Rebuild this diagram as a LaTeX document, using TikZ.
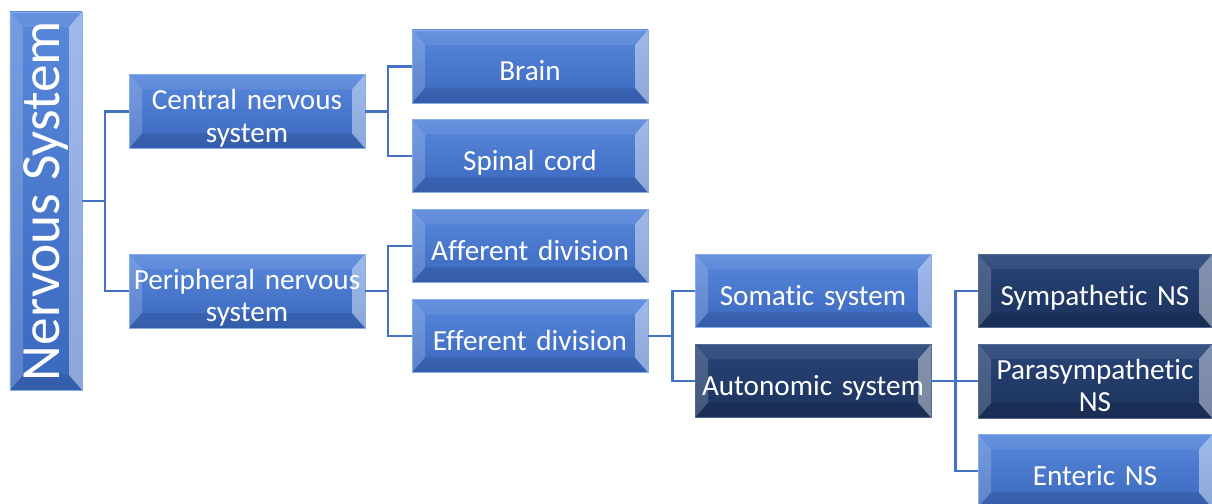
\documentclass[tikz,border=0pt]{standalone}
\usepackage{fontspec}
\setmainfont{Carlito}[RawFeature=-liga]
\usepackage{graphicx}
\usetikzlibrary{positioning,calc}
\definecolor{nsblue}{RGB}{58,104,190}
\definecolor{nsbluetop}{RGB}{88,136,220}
\definecolor{nsdark}{RGB}{28,50,92}
\definecolor{nsdarktop}{RGB}{40,68,120}
\definecolor{nsline}{RGB}{68,114,196}
\tikzset{
  bevel/.style={path picture={
      \path (path picture bounding box.south west) coordinate (bsw)
            (path picture bounding box.north east) coordinate (bne);
      \fill[white,opacity=.08] (bsw|-bne) -- ($(bsw|-bne)+(0.26,-0.3)$) -- ($(bne)+(-0.26,-0.3)$) -- (bne) -- cycle;
      \fill[black,opacity=.10] (bsw) -- ($(bsw)+(0.26,0.3)$) -- ($(bne|-bsw)+(-0.26,0.3)$) -- (bne|-bsw) -- cycle;
      \fill[white,opacity=.18] (bsw) -- ($(bsw)+(0.26,0.3)$) -- ($(bsw|-bne)+(0.26,-0.3)$) -- (bsw|-bne) -- cycle;
      \fill[white,opacity=.42] (bne) -- ($(bne)+(-0.26,-0.3)$) -- ($(bne|-bsw)+(-0.26,0.3)$) -- (bne|-bsw) -- cycle;
    }},
  lightbox/.style={rectangle, bevel, draw=nsbluetop!70!white, thin, top color=nsbluetop, bottom color=nsblue, text=white, align=center, minimum width=4.72cm, minimum height=1.46cm, text width=4.66cm, inner sep=0pt, text height=16pt, text depth=0pt, font=\fontsize{16.6}{18.5}\selectfont},
  darkbox/.style={lightbox, draw=nsdarktop!80!white, top color=nsdarktop, bottom color=nsdark},
  twoline/.style={text height=20pt, text depth=22pt},
  rootbox/.style={lightbox, minimum width=1.44cm, minimum height=7.56cm, text width=, text height=, text depth=, font=\fontsize{31.5}{34}\selectfont},
  link/.style={draw=nsline, line width=1.3pt}
}
\begin{document}
\begin{tikzpicture}
\useasboundingbox (0,0) rectangle (24.24,10.08);
% root
\node[rootbox] (root) at (0.92,6.06) {\rotatebox{90}{Nervous System}};
% second level
\node[lightbox, twoline] (cns) at (4.94,7.85) {Central nervous\\system};
\node[lightbox, twoline] (pns) at (4.94,4.26) {Peripheral nervous\\system};
% third level
\node[lightbox] (brain) at (10.60,8.75) {Brain};
\node[lightbox] (spinal) at (10.60,6.96) {Spinal cord};
\node[lightbox] (afferent) at (10.60,5.16) {Afferent division};
\node[lightbox] (efferent) at (10.60,3.36) {Efferent division};
% fourth level
\node[lightbox] (somatic) at (16.26,4.26) {Somatic system};
\node[darkbox] (autonomic) at (16.26,2.46) {Autonomic system};
% fifth level
\node[darkbox, minimum width=4.68cm] (sympathetic) at (21.90,4.26) {Sympathetic NS};
\node[darkbox, twoline, minimum width=4.68cm] (parasym) at (21.90,2.46) {Parasympathetic\\NS};
\node[lightbox, minimum width=4.68cm] (enteric) at (21.90,0.66) {Enteric NS};
% connectors
\draw[link] (root.east) -- ++(0.46,0) coordinate (j0) |- (cns.west);
\draw[link] (j0) |- (pns.west);
\draw[link] (cns.east) -- ++(0.46,0) coordinate (j1) |- (brain.west);
\draw[link] (j1) |- (spinal.west);
\draw[link] (pns.east) -- ++(0.46,0) coordinate (j2) |- (afferent.west);
\draw[link] (j2) |- (efferent.west);
\draw[link] (efferent.east) -- ++(0.48,0) coordinate (j3) |- (somatic.west);
\draw[link] (j3) |- (autonomic.west);
\draw[link] (autonomic.east) -- ++(0.48,0) coordinate (j4) |- (sympathetic.west);
\draw[link] (j4) -- (parasym.west);
\draw[link] (j4) |- (enteric.west);
\end{tikzpicture}
\end{document}
